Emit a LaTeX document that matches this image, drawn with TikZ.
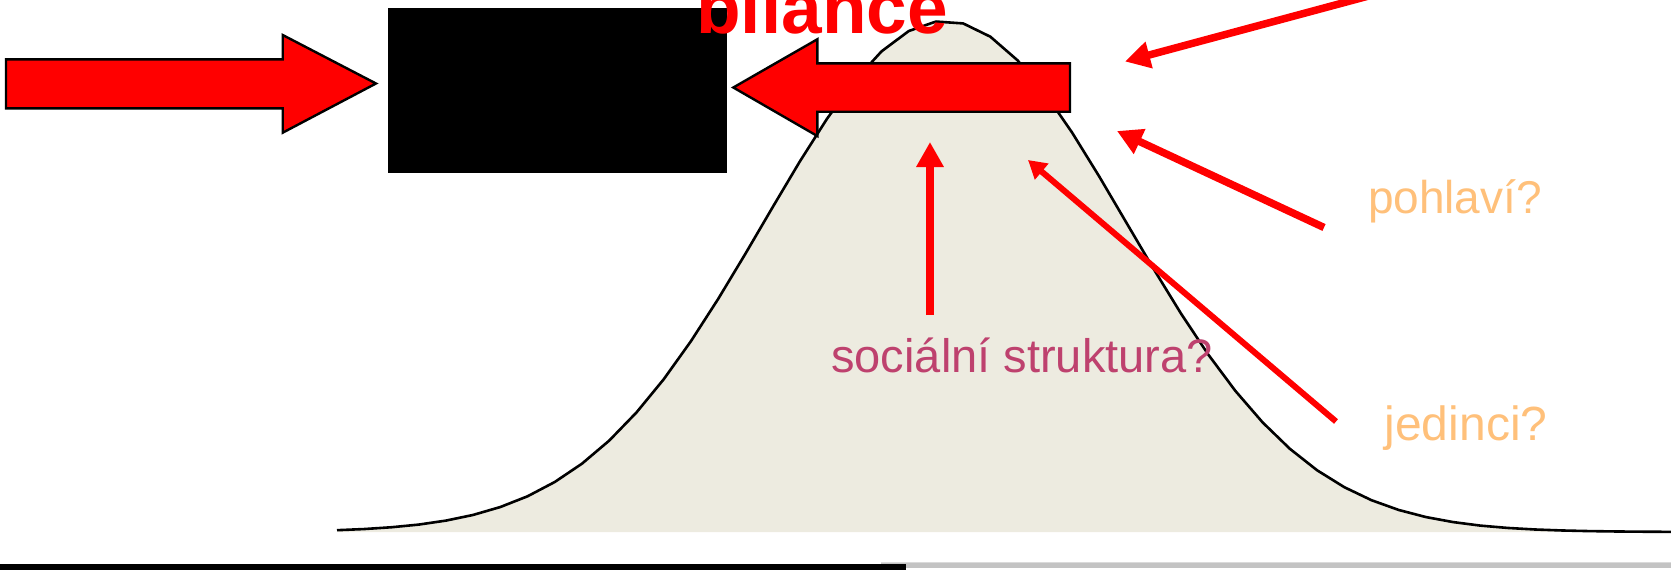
\documentclass[tikz,border=0pt]{standalone}
\usepackage{fontspec}
\setmainfont{Liberation Sans}
\usetikzlibrary{arrows.meta}
\definecolor{bellfill}{RGB}{237,235,224}
\definecolor{labelmag}{RGB}{190,65,110}
\definecolor{labelorg}{RGB}{255,192,122}
\definecolor{bargray}{RGB}{195,195,195}
\definecolor{barlight}{RGB}{218,218,218}
\begin{document}
\begin{tikzpicture}[x=1pt,y=-1pt,
  blockarrow/.style={fill=red,draw=black,line width=2.4pt,line join=miter},
  thinarrow/.style={draw=red,line width=7.5pt,-{Triangle[length=25pt,width=26pt]}},
  smallarrow/.style={draw=red,line width=6pt,-{Triangle[length=18pt,width=20pt]}},
  belly/.style={draw=black,line width=2.6pt,line join=round},
  lbl/.style={inner sep=0pt,anchor=base}
]
\useasboundingbox (0,0) rectangle (1671,570);

% bell curve
\fill[bellfill] (337,532) -- plot[domain=337:1671,samples=50] (\x,{532-511*exp(-0.5*((\x-945)/181)^2)}) -- (1671,532) -- cycle;
\draw[belly] plot[domain=337:1671,samples=50] (\x,{532-511*exp(-0.5*((\x-945)/181)^2)});

% black box
\node[fill=black,minimum width=339pt,minimum height=165pt,inner sep=0pt,anchor=north west] (box) at (388,7.5) {};

% block arrows
\draw[blockarrow] (6,59.3) -- (282.7,59.3) -- (282.7,35) -- (376,83.5) -- (282.7,132.7) -- (282.7,108.3) -- (6,108.3) -- cycle;
\draw[blockarrow] (1070,63.3) -- (817.3,63.3) -- (817.3,39.3) -- (733.3,87.5) -- (817.3,136) -- (817.3,111.7) -- (1070,111.7) -- cycle;

% thin arrows
\coordinate (a1s) at (1376,-6);
\coordinate (a1t) at (1125,61.5);
\coordinate (a2s) at (1324,227.5);
\coordinate (a2t) at (1117,131);
\coordinate (a3s) at (930,315);
\coordinate (a3t) at (930,142);
\coordinate (a4s) at (1336,421.5);
\coordinate (a4t) at (1028,160);
\draw[thinarrow] (a1s) -- (a1t);
\draw[thinarrow] (a2s) -- (a2t);
\draw[thinarrow] (a3s) -- (a3t);
\draw[smallarrow] (a4s) -- (a4t);

% texts
\node[lbl,text=red,font=\fontsize{73}{80}\selectfont\bfseries] (title) at (822,33) {bilance};
\node[lbl,text=labelmag,font=\fontsize{47}{52}\selectfont] (soc) at (1022,372) {sociální struktura?};
\node[lbl,text=labelorg,font=\fontsize{46}{52}\selectfont] (poh) at (1455,213) {pohlaví?};
\node[lbl,text=labelorg,font=\fontsize{48}{52}\selectfont] (jed) at (1466,440) {jedinci?};

% bottom bars
\fill[bargray] (881,562) rectangle (1671,568.3);
\fill[barlight] (881,561.7) rectangle (1671,562.8);
\fill[black] (0,564) rectangle (906,570);
\end{tikzpicture}
\end{document}
